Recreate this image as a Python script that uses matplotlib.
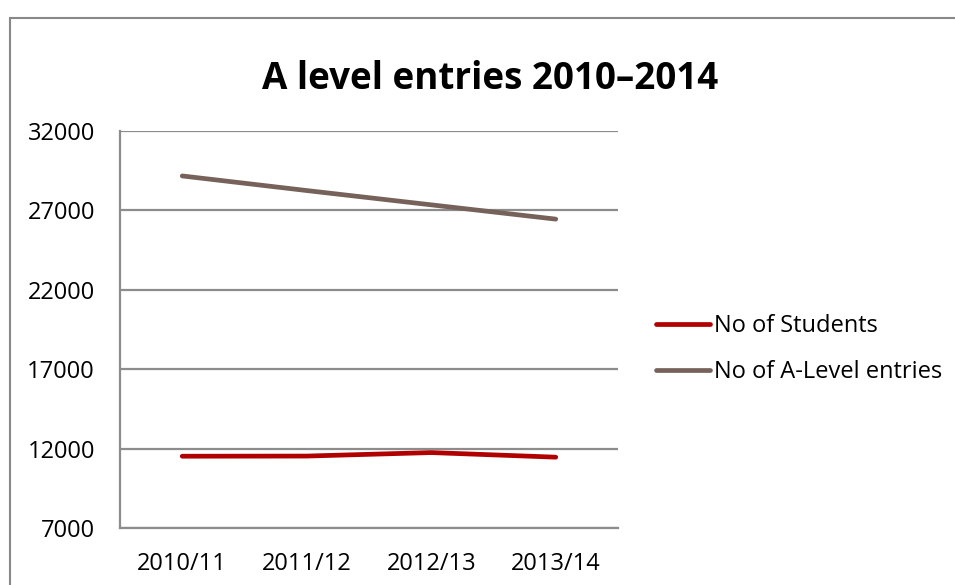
import matplotlib
matplotlib.use('Agg')
import matplotlib.pyplot as plt
from matplotlib.patches import Rectangle

plt.rcParams['font.family'] = ['Open Sans', 'DejaVu Sans']

years = ['2010/11', '2011/12', '2012/13', '2013/14']
students = [11520, 11530, 11750, 11460]
entries = [29170, 28250, 27350, 26450]
yticks = [7000, 12000, 17000, 22000, 27000, 32000]

fig = plt.figure(figsize=(9.55, 5.85), dpi=100)
ax = fig.add_axes([120/955, 1-528/585, (618-120)/955, (528-131)/585])

x = range(len(years))
ax.plot(x, students, color='#B00000', lw=3.4, solid_capstyle='round', label='No of Students')
ax.plot(x, entries, color='#76625B', lw=3.4, solid_capstyle='round', label='No of A-Level entries')

ax.set_xlim(-0.5, 3.5)
ax.set_ylim(7000, 32000)
ax.set_yticks(yticks)
ax.set_xticks(list(x))
ax.set_xticklabels(years)
ax.tick_params(length=0, labelsize=17, pad=18)
ax.tick_params(axis='x', pad=17)
ax.yaxis.grid(True, color='#8C8C8C', lw=1.6)
ax.set_axisbelow(True)
for s in ['top', 'right']:
    ax.spines[s].set_visible(False)
for s in ['left', 'bottom']:
    ax.spines[s].set_color('#8C8C8C')
    ax.spines[s].set_linewidth(1.6)

fig.text(490/955, 1-79/585, 'A level entries 2010\u20132014', ha='center', va='center',
         fontsize=26.5, fontweight='bold')

ax.legend(loc='center left', bbox_to_anchor=(656/955, 1-349/585), bbox_transform=fig.transFigure,
          frameon=False, fontsize=17, handlelength=2.3, handletextpad=0.17,
          labelspacing=0.95, borderpad=0, borderaxespad=0)

fig.add_artist(Rectangle((10/955, -0.1), 1.2, 1.1 - 18/585, transform=fig.transFigure,
                         fill=False, edgecolor='#888888', lw=1.5, clip_on=False))

fig.savefig('out.png', dpi=100)
